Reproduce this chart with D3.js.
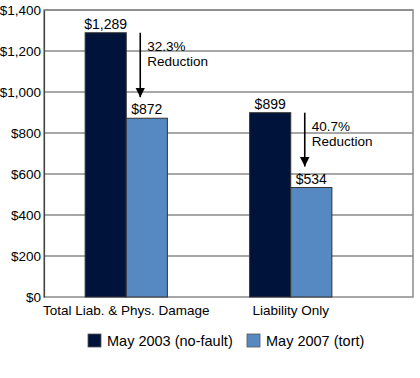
<!DOCTYPE html>
<html>
<head>
<meta charset="utf-8">
<script src="https://cdn.jsdelivr.net/npm/d3@7"></script>
<style>
  body { margin: 0; background: #fff; }
  text { font-family: "Liberation Sans", Arial, sans-serif; }
</style>
</head>
<body>
<div id="chart"></div>
<script>
var width = 420,
    height = 378;

var categories = ["Total Liab. & Phys. Damage", "Liability Only"];
var series = ["May 2003 (no-fault)", "May 2007 (tort)"];
var values2003 = [1289, 899];
var values2007 = [872, 534];
var reductions = ["32.3%", "40.7%"];
var yTicks = [0, 200, 400, 600, 800, 1000, 1200, 1400];

var colors = ["#00133a", "#5689c2"];

var plot = { left: 44, right: 413, top: 10, bottom: 297 };

var svg = d3.select("#chart").append("svg")
    .attr("width", width)
    .attr("height", height);

var y = d3.scaleLinear()
    .domain([0, 1400])
    .range([plot.bottom, plot.top]);

var x = d3.scaleBand()
    .domain(categories)
    .range([plot.left, 373])
    .paddingInner(0.5)
    .paddingOuter(0.25);

var xs = d3.scaleBand()
    .domain(series)
    .range([0, x.bandwidth()]);

// gridlines
svg.append("g")
    .selectAll("line")
    .data(yTicks.slice(1))
    .enter().append("line")
      .attr("x1", plot.left)
      .attr("x2", plot.right)
      .attr("y1", function(d) { return y(d); })
      .attr("y2", function(d) { return y(d); })
      .attr("stroke", "#8a8a8a")
      .attr("stroke-width", 1.5);

// frame
svg.append("rect")
    .attr("x", plot.left)
    .attr("y", plot.top)
    .attr("width", plot.right - plot.left)
    .attr("height", plot.bottom - plot.top)
    .attr("fill", "none")
    .attr("stroke", "#8a8a8a")
    .attr("stroke-width", 1.5);

// y axis
var yAxis = svg.append("g")
    .attr("transform", "translate(" + plot.left + ",0)")
    .call(d3.axisLeft(y).tickValues(yTicks).tickSize(0).tickPadding(3)
      .tickFormat(function(d) { return "$" + d3.format(",")(d); }));
yAxis.select(".domain").attr("stroke", "#444").attr("stroke-width", 1.2);
yAxis.selectAll("text")
    .attr("font-size", 13.5)
    .attr("fill", "#000")
    .style("font-family", "'Liberation Sans', Arial, sans-serif");

// bars
var rows = categories.map(function(c, i) {
  return { cat: c, vals: [values2003[i], values2007[i]], red: reductions[i] };
});

var groups = svg.append("g")
    .selectAll("g")
    .data(rows)
    .enter().append("g")
      .attr("transform", function(d) { return "translate(" + x(d.cat) + ",0)"; });

groups.selectAll("rect")
    .data(function(d) { return d.vals.map(function(v, j) { return { s: series[j], v: v, j: j }; }); })
    .enter().append("rect")
      .attr("x", function(d) { return xs(d.s); })
      .attr("y", function(d) { return y(d.v); })
      .attr("width", xs.bandwidth())
      .attr("height", function(d) { return y(0) - y(d.v); })
      .attr("fill", function(d) { return colors[d.j]; })
      .attr("stroke", "#333")
      .attr("stroke-width", 1);

groups.selectAll("text.val")
    .data(function(d) { return d.vals.map(function(v, j) { return { s: series[j], v: v }; }); })
    .enter().append("text")
      .attr("class", "val")
      .attr("x", function(d) { return xs(d.s) + xs.bandwidth() / 2; })
      .attr("y", function(d) { return y(d.v) - 4; })
      .attr("text-anchor", "middle")
      .attr("font-size", 14)
      .text(function(d) { return "$" + d3.format(",")(d.v); });

// reduction arrows
svg.append("defs").append("marker")
    .attr("id", "head")
    .attr("viewBox", "0 0 10 10")
    .attr("refX", 10)
    .attr("refY", 5)
    .attr("markerWidth", 6)
    .attr("markerHeight", 7)
    .attr("markerUnits", "strokeWidth")
    .attr("orient", "auto")
  .append("path")
    .attr("d", "M0,0L10,5L0,10z")
    .attr("fill", "#000");

groups.append("line")
    .attr("x1", xs(series[1]) + 14)
    .attr("x2", xs(series[1]) + 14)
    .attr("y1", function(d) { return y(d.vals[0]); })
    .attr("y2", function(d) { return y(d.vals[1]) - 21; })
    .attr("stroke", "#000")
    .attr("stroke-width", 1.6)
    .attr("marker-end", "url(#head)");

groups.append("text")
    .attr("x", xs(series[1]) + 21)
    .attr("y", function(d) { return y(d.vals[0]) + 18; })
    .attr("font-size", 13.5)
    .text(function(d) { return d.red; });
groups.append("text")
    .attr("x", xs(series[1]) + 21)
    .attr("y", function(d) { return y(d.vals[0]) + 33; })
    .attr("font-size", 13.5)
    .text("Reduction");

// category labels
svg.append("g")
    .selectAll("text")
    .data(categories)
    .enter().append("text")
      .attr("x", function(d) { return x(d) + x.bandwidth() / 2; })
      .attr("y", 315)
      .attr("text-anchor", "middle")
      .attr("font-size", 13.5)
      .text(function(d) { return d; });

// legend
var legendX = [88, 247];
var legend = svg.append("g")
    .selectAll("g")
    .data(series)
    .enter().append("g")
      .attr("transform", function(d, i) { return "translate(" + legendX[i] + ",334)"; });
legend.append("rect")
    .attr("width", 13)
    .attr("height", 13)
    .attr("fill", function(d, i) { return colors[i]; })
    .attr("stroke", "#555")
    .attr("stroke-width", 0.8);
legend.append("text")
    .attr("x", 19)
    .attr("y", 11.5)
    .attr("font-size", 14.5)
    .text(function(d) { return d; });
</script>
</body>
</html>
